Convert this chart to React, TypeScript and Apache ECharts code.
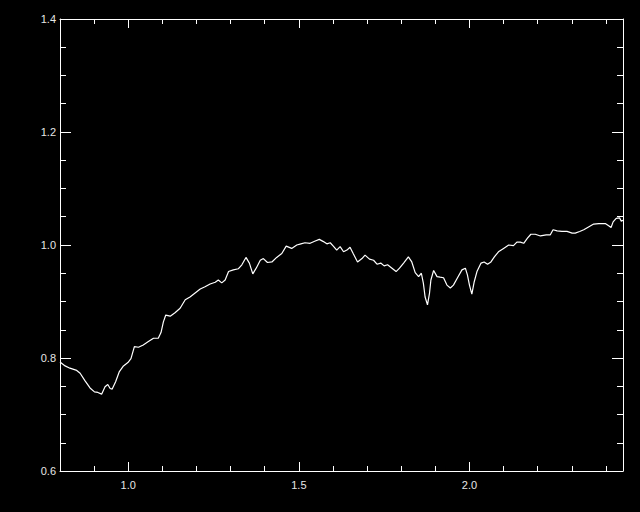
import React, { useEffect, useRef } from "react";
import * as echarts from "echarts";

const xValues = [
  0.8, 0.815, 0.829, 0.849, 0.859, 0.873, 0.888, 0.901, 0.911, 0.922,
  0.932, 0.94, 0.947, 0.953, 0.963, 0.974, 0.986, 0.999, 1.008, 1.018,
  1.03, 1.044, 1.059, 1.074, 1.088, 1.096, 1.103, 1.11, 1.123, 1.137,
  1.152, 1.167, 1.181, 1.196, 1.211, 1.225, 1.24, 1.255, 1.264, 1.274,
  1.284, 1.294, 1.308, 1.323, 1.333, 1.345, 1.355, 1.365, 1.375, 1.387,
  1.396, 1.408, 1.421, 1.435, 1.45, 1.463, 1.479, 1.494, 1.506, 1.518,
  1.533, 1.548, 1.56, 1.572, 1.582, 1.592, 1.601, 1.611, 1.621, 1.631,
  1.641, 1.65, 1.66, 1.672, 1.685, 1.694, 1.707, 1.719, 1.729, 1.74,
  1.75, 1.76, 1.773, 1.785, 1.795, 1.807, 1.821, 1.831, 1.841, 1.851,
  1.859, 1.865, 1.87, 1.877, 1.883, 1.887, 1.895, 1.905, 1.914, 1.924,
  1.934, 1.944, 1.953, 1.965, 1.978, 1.988, 1.994, 2.0, 2.007, 2.014,
  2.022, 2.034, 2.043, 2.053, 2.063, 2.073, 2.085, 2.1, 2.115, 2.129,
  2.139, 2.149, 2.159, 2.17, 2.18, 2.193, 2.208, 2.225, 2.237, 2.245,
  2.257, 2.271, 2.286, 2.301, 2.31, 2.323, 2.335, 2.349, 2.364, 2.379,
  2.388, 2.398, 2.408, 2.415, 2.421, 2.43, 2.44, 2.445, 2.45,
];

const yValues = [
  0.793, 0.786, 0.782, 0.778, 0.773, 0.76, 0.747, 0.74, 0.739, 0.736,
  0.749, 0.753, 0.746, 0.745, 0.758, 0.776, 0.786, 0.792, 0.799, 0.82,
  0.819, 0.823, 0.829, 0.835, 0.835, 0.845, 0.864, 0.876, 0.874, 0.88,
  0.888, 0.903, 0.908, 0.915, 0.922, 0.926, 0.931, 0.934, 0.938, 0.933,
  0.938, 0.953, 0.956, 0.958, 0.965, 0.978, 0.968, 0.949, 0.959, 0.973,
  0.976, 0.969, 0.97, 0.978, 0.985, 0.998, 0.994, 1.0, 1.002, 1.004,
  1.003, 1.007, 1.01, 1.006, 1.002, 1.004, 0.998, 0.991, 0.997, 0.988,
  0.991, 0.996, 0.984, 0.97, 0.976, 0.982, 0.975, 0.973, 0.966, 0.968,
  0.963, 0.965, 0.959, 0.953, 0.959, 0.968, 0.979, 0.97, 0.951, 0.944,
  0.95, 0.932, 0.908, 0.894, 0.915, 0.938, 0.955, 0.944, 0.943, 0.942,
  0.929, 0.924, 0.929, 0.942, 0.956, 0.959, 0.947, 0.929, 0.913, 0.935,
  0.953, 0.968, 0.97, 0.966, 0.97, 0.979, 0.988, 0.994, 1.0, 0.999,
  1.005, 1.005, 1.003, 1.012, 1.019, 1.019, 1.016, 1.018, 1.018, 1.027,
  1.025, 1.024, 1.024, 1.021, 1.021, 1.024, 1.027, 1.032, 1.037, 1.038,
  1.038, 1.038, 1.034, 1.031, 1.041, 1.047, 1.048, 1.042, 1.044,
];

const xMajorTicks = [1.0, 1.5, 2.0];
const xMinorTicks = [0.9, 1.1, 1.2, 1.3, 1.4, 1.6, 1.7, 1.8, 1.9, 2.1, 2.2, 2.3, 2.4];
const yMajorTicks = [0.6, 0.8, 1.0, 1.2, 1.4];
const yMinorTicks = [0.65, 0.7, 0.75, 0.85, 0.9, 0.95, 1.05, 1.1, 1.15, 1.25, 1.3, 1.35];

const X_MIN = 0.8;
const X_MAX = 2.45;
const Y_MIN = 0.6;
const Y_MAX = 1.4;

const FG = "#ffffff";
const LABEL = "#e6e6e6";

function makeAxis(
  kind: "x" | "y",
  position: string,
  ticks: number[],
  tickLen: number,
  showLabels: boolean,
  showLine: boolean
) {
  return {
    type: "value",
    position,
    min: kind === "x" ? X_MIN : Y_MIN,
    max: kind === "x" ? X_MAX : Y_MAX,
    axisLine: { show: showLine, onZero: false, lineStyle: { color: FG, width: 1 } },
    axisTick: {
      show: true,
      inside: true,
      length: tickLen,
      customValues: ticks,
      lineStyle: { color: FG, width: 1 },
    },
    axisLabel: {
      show: showLabels,
      customValues: ticks,
      color: LABEL,
      fontFamily: "Liberation Sans",
      fontSize: 11,
      margin: kind === "x" ? 8 : 4,
      formatter: (v: number) => v.toFixed(1),
    },
    splitLine: { show: false },
  };
}

export default function App() {
  const ref = useRef<HTMLDivElement>(null);

  useEffect(() => {
    if (!ref.current) return;
    const chart = echarts.init(ref.current, null, { renderer: "svg" });
    const data = xValues.map((x, i) => [x, yValues[i]]);
    chart.setOption({
      animation: false,
      backgroundColor: "#000000",
      grid: { left: 60, right: 17, top: 19, bottom: 41, containLabel: false },
      xAxis: [
        makeAxis("x", "bottom", xMajorTicks, 9, true, true),
        makeAxis("x", "bottom", xMinorTicks, 5, false, false),
        makeAxis("x", "top", xMajorTicks, 9, false, true),
        makeAxis("x", "top", xMinorTicks, 5, false, false),
      ],
      yAxis: [
        makeAxis("y", "left", yMajorTicks, 11, true, true),
        makeAxis("y", "left", yMinorTicks, 6, false, false),
        makeAxis("y", "right", yMajorTicks, 11, false, true),
        makeAxis("y", "right", yMinorTicks, 6, false, false),
      ],
      series: [
        {
          type: "line",
          xAxisIndex: 0,
          yAxisIndex: 0,
          data,
          showSymbol: false,
          symbol: "none",
          lineStyle: { color: FG, width: 1.2 },
        },
      ],
    });
    return () => chart.dispose();
  }, []);

  return (
    <div
      ref={ref}
      style={{ position: "fixed", left: 0, top: 0, width: 640, height: 512, background: "#000" }}
    />
  );
}
